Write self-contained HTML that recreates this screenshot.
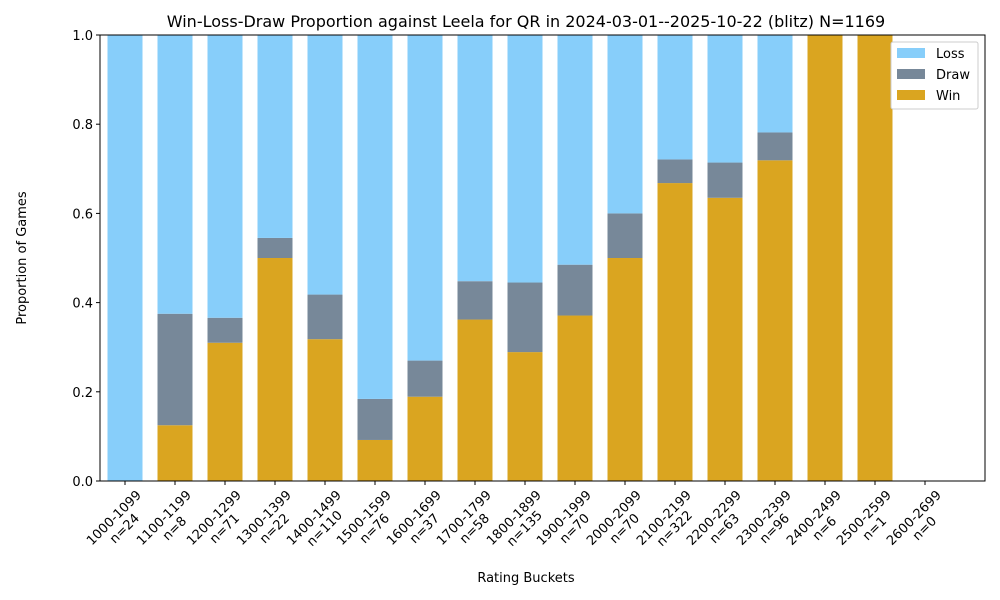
<!DOCTYPE html>
<html><head><meta charset="utf-8"><style>body{margin:0;background:#fff}svg{display:block;font-family:"DejaVu Sans","Liberation Sans",sans-serif}</style></head>
<body>
<svg id="chart" width="1000" height="600">
<rect width="1000" height="600" fill="#fff"/>
<text x="526" y="27" font-size="16" text-anchor="middle">Win-Loss-Draw Proportion against Leela for QR in 2024-03-01--2025-10-22 (blitz) N=1169</text>
<g id="bars"></g>
<g id="axes"></g>
<g>
<rect x="891" y="42" width="87" height="67" fill="#fff" stroke="#ccc" rx="2"/>
<g><rect x="897" y="48" width="28" height="10" fill="#87cefa"/><text x="936" y="58" font-size="13">Loss</text></g>
<g><rect x="897" y="69" width="28" height="10" fill="#778899"/><text x="936" y="79" font-size="13">Draw</text></g>
<g><rect x="897" y="90" width="28" height="10" fill="#daa520"/><text x="936" y="100" font-size="13">Win</text></g>
</g>
</svg>
<script>
const categories=["1000-1099","1100-1199","1200-1299","1300-1399","1400-1499","1500-1599","1600-1699","1700-1799","1800-1899","1900-1999","2000-2099","2100-2199","2200-2299","2300-2399","2400-2499","2500-2599","2600-2699"];
const counts=[24,8,71,22,110,76,37,58,135,70,70,322,63,96,6,1,0];
const winValues=[0,0.125,0.31,0.5,0.318,0.092,0.189,0.362,0.289,0.371,0.5,0.668,0.635,0.719,1,1,0];
const drawValues=[0,0.25,0.056,0.045,0.1,0.092,0.081,0.086,0.156,0.114,0.1,0.053,0.079,0.0625,0,0,0];
const yTicks=[0,0.2,0.4,0.6,0.8,1.0];
const NS="http://www.w3.org/2000/svg";
const X0=100,X1=985,Y0=481,Y1=35;
const xPos=i=>125+50*i;
const yPos=v=>Y0-(Y0-Y1)*v;
const bars=document.getElementById('bars'),axes=document.getElementById('axes');
function mk(tag,attrs,parent){const e=document.createElementNS(NS,tag);for(const k in attrs)e.setAttribute(k,attrs[k]);parent.appendChild(e);return e;}
categories.forEach((c,i)=>{
  if(counts[i]===0)return;
  const w=winValues[i],d=drawValues[i],l=1-w-d;
  const segs=[[0,w,'#daa520','win'],[w,d,'#778899','draw'],[w+d,l,'#87cefa','loss']];
  segs.forEach(s=>{
    if(s[1]<=0)return;
    const r=mk('rect',{x:xPos(i)-17.5,y:yPos(s[0]+s[1]),width:35,height:yPos(s[0])-yPos(s[0]+s[1]),fill:s[2]},bars);
    
    
  });
});
const frame=mk('rect',{x:X0,y:Y1,width:X1-X0,height:Y0-Y1,fill:'none',stroke:'#000','stroke-width':1},axes);


yTicks.forEach(t=>{
  const y=yPos(t);
  mk('line',{x1:X0-4,x2:X0,y1:y,y2:y,stroke:'#000'},axes);
  const tx=mk('text',{x:X0-7,y:y+5,'font-size':13,'text-anchor':'end'},axes);
  tx.textContent=t.toFixed(1);
  
  
});
categories.forEach((c,i)=>{
  const x=xPos(i);
  mk('line',{x1:x,x2:x,y1:Y0,y2:Y0+4,stroke:'#000'},axes);
  const cx=x-6,cy=523;
  const g=mk('g',{transform:`rotate(-45 ${cx} ${cy})`},axes);
  
  
  const t1=mk('text',{x:cx,y:cy-3,'font-size':13,'text-anchor':'middle'},g);t1.textContent=c;
  const t2=mk('text',{x:cx,y:cy+12,'font-size':13,'text-anchor':'middle'},g);t2.textContent='n='+counts[i];
});
const xt=mk('text',{x:526,y:582,'font-size':13,'text-anchor':'middle'},axes);xt.textContent='Rating Buckets';


const yt=mk('text',{x:26,y:258,'font-size':13,'text-anchor':'middle',transform:'rotate(-90 26 258)'},axes);yt.textContent='Proportion of Games';


</script>
</body></html>
